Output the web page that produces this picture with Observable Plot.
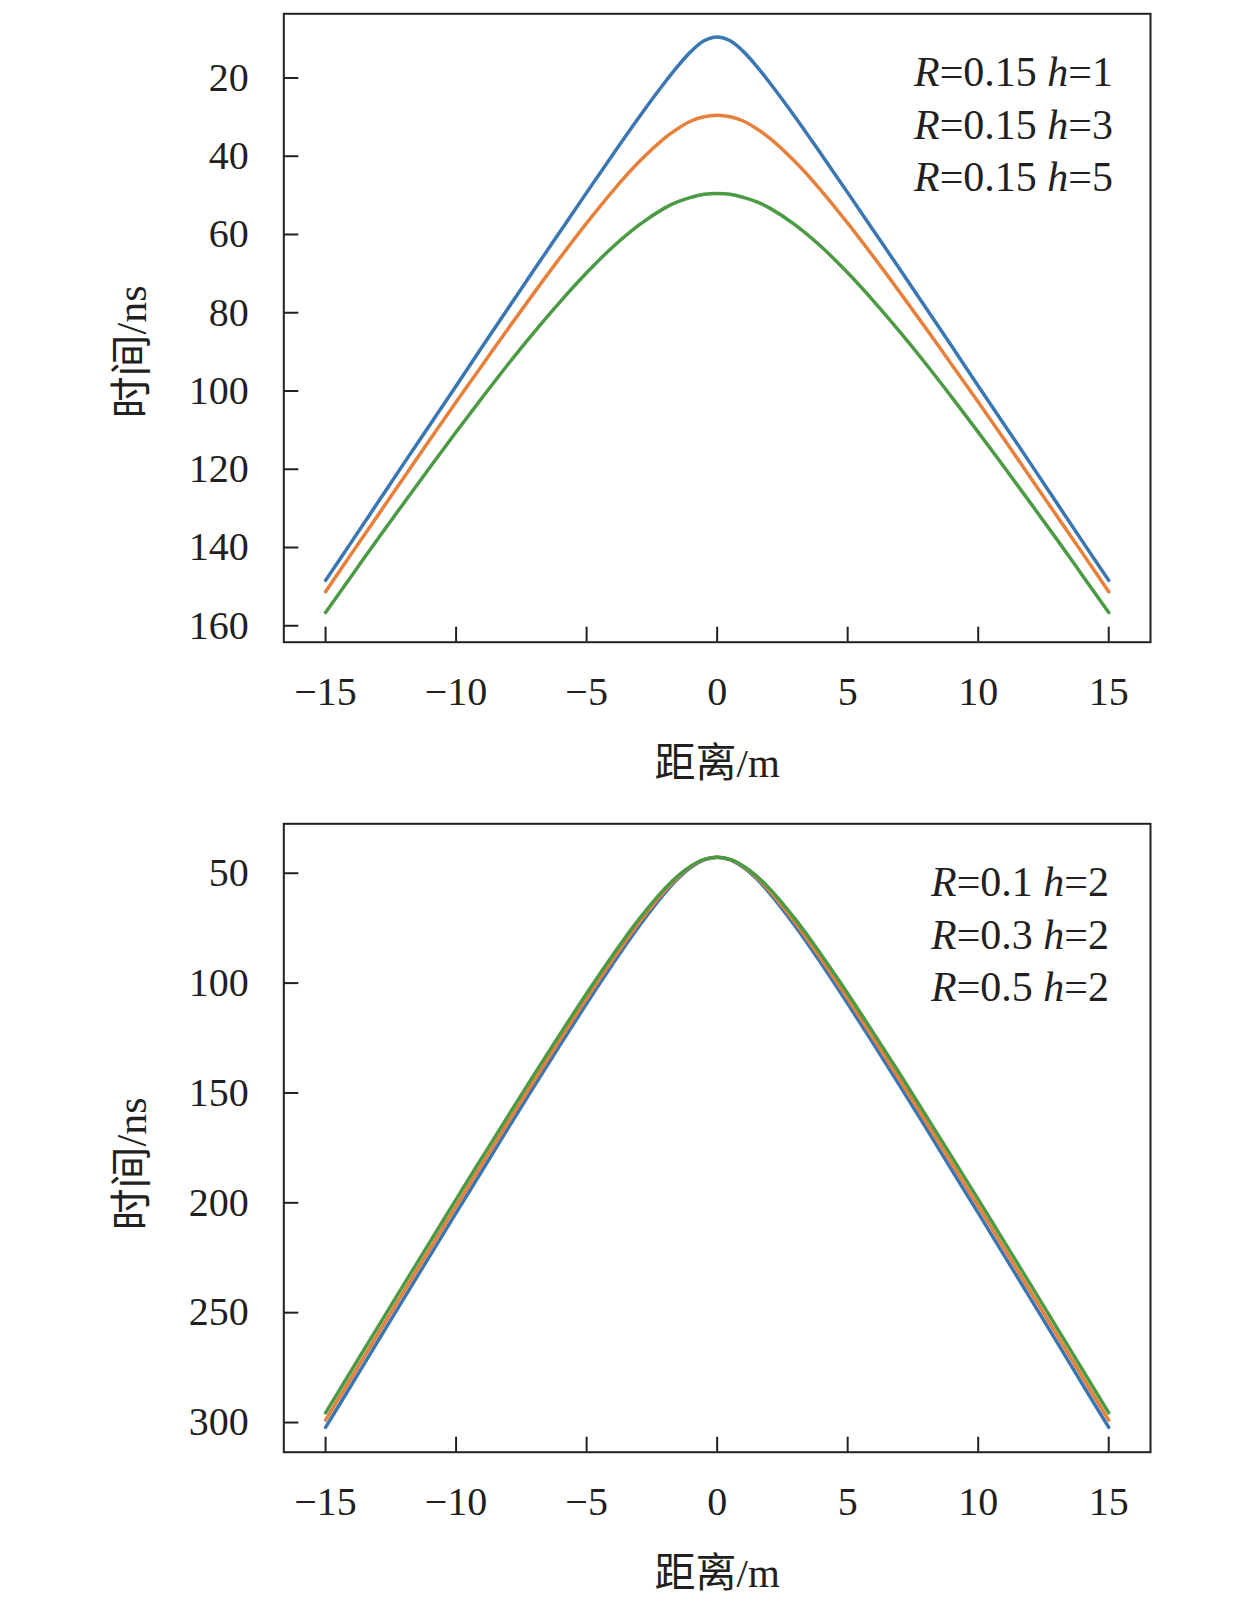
<!DOCTYPE html>
<html>
<head>
<meta charset="utf-8">
<script src="https://cdn.jsdelivr.net/npm/d3@7"></script>
<script src="https://cdn.jsdelivr.net/npm/@observablehq/plot@0.6"></script>
<style>
  html, body { margin: 0; padding: 0; background: #fff; }
  #wrap { width: 1259px; height: 1614px; position: relative; }
  #wrap svg { display: block; }
</style>
</head>
<body>
<div id="wrap"><div id="top"></div><div id="bottom"></div></div>
<script>
// distance (m)
const xs = [-15,-14,-13,-12,-11,-10,-9,-8,-7,-6,-5,-4,-3,-2,-1.5,-1,-0.5,0,0.5,1,1.5,2,3,4,5,6,7,8,9,10,11,12,13,14,15];

// top panel: R=0.15, h = 1, 3, 5  (time, ns)
const topH1 = [148.4,138.5,128.5,118.5,108.6,98.7,88.7,78.8,68.9,59.1,49.3,39.6,30.1,21.1,16.9,13.2,10.5,9.5,10.5,13.2,16.9,21.1,30.1,39.6,49.3,59.1,68.9,78.8,88.7,98.7,108.6,118.5,128.5,138.5,148.4];
const topH3 = [151.3,141.5,131.8,122.1,112.4,102.8,93.4,84.0,74.8,65.8,57.1,48.9,41.5,35.3,32.9,31.0,29.9,29.5,29.9,31.0,32.9,35.3,41.5,48.9,57.1,65.8,74.8,84.0,93.4,102.8,112.4,122.1,131.8,141.5,151.3];
const topH5 = [156.6,147.2,137.8,128.6,119.5,110.5,101.7,93.1,84.9,77.1,69.8,63.2,57.6,53.2,51.6,50.5,49.7,49.5,49.7,50.5,51.6,53.2,57.6,63.2,69.8,77.1,84.9,93.1,101.7,110.5,119.5,128.6,137.8,147.2,156.6];

// bottom panel: h=2, R = 0.1, 0.3, 0.5  (time, ns)
const botR01 = [302.2,282.7,263.0,243.5,224.0,204.6,185.3,165.9,146.8,127.9,109.3,91.3,74.2,58.9,52.4,47.3,43.9,42.7,43.9,47.3,52.4,58.9,74.2,91.3,109.3,127.9,146.8,165.9,185.3,204.6,224.0,243.5,263.0,282.7,302.2];
const botR03 = [298.9,279.4,259.8,240.3,220.9,201.5,182.3,163.1,144.1,125.4,107.0,89.3,72.6,57.9,51.8,47.0,43.8,42.7,43.8,47.0,51.8,57.9,72.6,89.3,107.0,125.4,144.1,163.1,182.3,201.5,220.9,240.3,259.8,279.4,298.9];
const botR05 = [295.6,276.1,256.6,237.1,217.8,198.4,179.3,160.3,141.4,122.9,104.7,87.3,71.0,56.9,51.2,46.7,43.7,42.7,43.7,46.7,51.2,56.9,71.0,87.3,104.7,122.9,141.4,160.3,179.3,198.4,217.8,237.1,256.6,276.1,295.6];

// ticks
const xTicks = [-15,-10,-5,0,5,10,15];
const topYTicks = [20,40,60,80,100,120,140,160];
const botYTicks = [50,100,150,200,250,300];

// legend entries
const topSeries = ["h1","h3","h5"];
const topLegR = ["0.15","0.15","0.15"];
const topLegH = ["1","3","5"];
const botSeries = ["R01","R03","R05"];
const botLegR = ["0.1","0.3","0.5"];
const botLegH = ["2","2","2"];

const colors = ["#3a76b2", "#e6803b", "#4b9a44"];
const xLabel = "距离/m";
const yLabel = "时间/ns";

const FONT = "'Liberation Serif', 'Times New Roman', 'Noto Sans CJK SC', serif";
const INK = "#231f20";

function rows(names, arrays) {
  const out = [];
  names.forEach((n, k) => arrays[k].forEach((t, i) => out.push({x: xs[i], t, series: n})));
  return out;
}

function panel({names, arrays, yDomain, yTicks, height, marginTop, marginBottom, yLabelDy}) {
  const data = rows(names, arrays);
  return Plot.plot({
    width: 1259,
    height,
    marginTop,
    marginBottom,
    marginLeft: 283.3,
    marginRight: 109,
    style: {fontFamily: FONT, fontSize: "40px", color: INK, background: "white"},
    x: {domain: [-16.6, 16.6]},
    y: {domain: yDomain, reverse: true},
    color: {domain: names, range: colors},
    marks: [
      Plot.line(data, {x: "x", y: "t", stroke: "series", z: "series", strokeWidth: 3.5, curve: "catmull-rom"}),
      Plot.frame({stroke: INK, strokeWidth: 2}),
      Plot.axisX(xTicks, {anchor: "bottom", tickSize: -15, tickPadding: 49, strokeWidth: 2, label: null, fontSize: 40}),
      Plot.axisY(yTicks, {anchor: "left", tickSize: -15, tickPadding: 50, strokeWidth: 2, label: null, fontSize: 40}),
      Plot.text([xLabel], {frameAnchor: "bottom", textAnchor: "middle", dy: 135, fontSize: 41, fill: INK}),
      Plot.text([yLabel], {frameAnchor: "left", textAnchor: "middle", rotate: -90, dx: -151, dy: yLabelDy, fontSize: 42, fill: INK})
    ]
  });
}

function addLegend(svg, frameTop, rightX, rs, hs) {
  const offsets = [72.7, 125.2, 177.7];
  const g = d3.select(svg).append("g")
    .attr("font-family", FONT).attr("font-size", 42).attr("fill", INK)
    .style("white-space", "pre");
  rs.forEach((r, i) => {
    const t = g.append("text").attr("x", rightX).attr("y", frameTop + offsets[i]).attr("text-anchor", "end");
    t.append("tspan").attr("font-style", "italic").text("R");
    t.append("tspan").text("=" + r + " ");
    t.append("tspan").attr("font-style", "italic").text("h");
    t.append("tspan").text("=" + hs[i]);
  });
}

const topSvg = panel({
  names: topSeries, arrays: [topH1, topH3, topH5],
  yDomain: [3.6, 164.2], yTicks: topYTicks,
  height: 800, marginTop: 13.3, marginBottom: 158.3, yLabelDy: 24
});
addLegend(topSvg, 13.3, 1113, topLegR, topLegH);
document.getElementById("top").appendChild(topSvg);

const botSvg = panel({
  names: botSeries, arrays: [botR01, botR03, botR05],
  yDomain: [27.5, 313.5], yTicks: botYTicks,
  height: 814, marginTop: 23.3, marginBottom: 162.3, yLabelDy: 26
});
addLegend(botSvg, 23.3, 1109, botLegR, botLegH);
document.getElementById("bottom").appendChild(botSvg);
</script>
</body>
</html>
